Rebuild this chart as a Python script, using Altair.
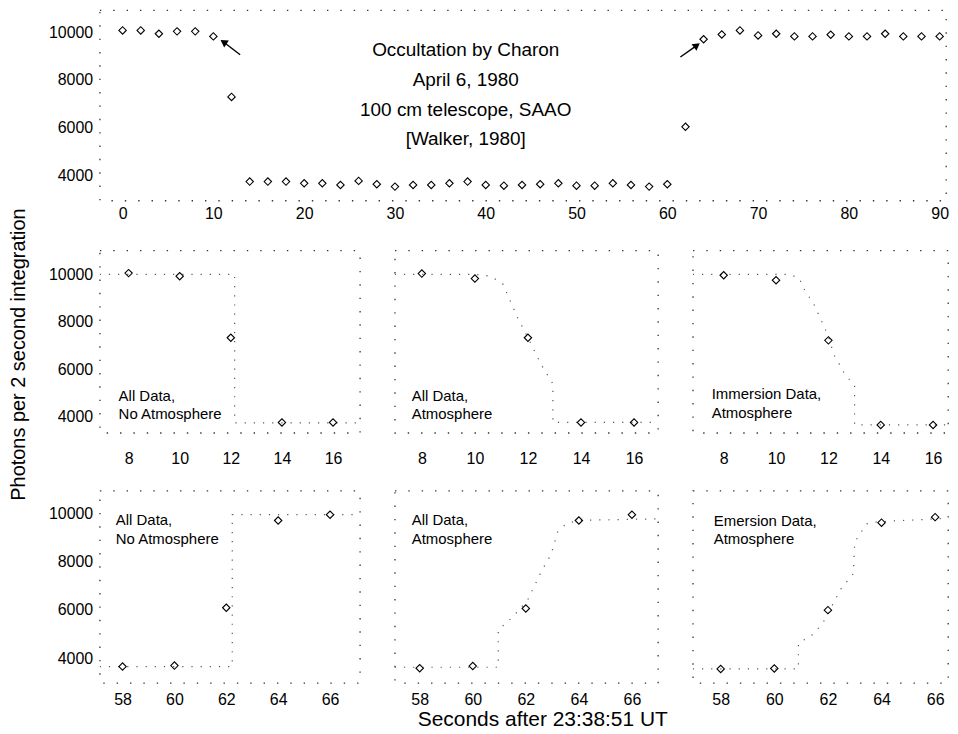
import altair as alt
import pandas as pd

FONT = "Liberation Sans"

# ---------------- data ----------------
# top panel: full light curve
top_sec = list(range(0, 92, 2))
top_photons = [10070, 10070, 9930, 10030, 10030, 9820, 7290,
               3750, 3750, 3750, 3680, 3680, 3610, 3780, 3640, 3540, 3610, 3610, 3680,
               3750, 3610, 3580, 3610, 3640, 3680, 3580, 3580, 3680, 3610, 3540, 3640,
               6040,
               9700, 9900, 10070, 9860, 9930, 9820, 9820, 9890, 9820, 9820, 9930, 9820, 9820, 9820]

arrow_x = [12.95, 61.44]
arrow_y = [9054, 8958]
arrow_x2 = [11.12, 63.26]
arrow_y2 = [9583, 9445]
arrow_angle = [304, 53]

info_lines = ["Occultation by Charon", "April 6, 1980", "100 cm telescope, SAAO", "[Walker, 1980]"]
info_x = [37.8, 37.8, 37.8, 37.8]
info_y = [9250, 8000, 6750, 5540]

# row 1: immersion
imm_sec = [8, 10, 12, 14, 16]
imm_p1 = [10050, 9920, 7330, 3765, 3765]
imm_p2 = [10030, 9820, 7330, 3765, 3765]
imm_p3 = [9960, 9750, 7220, 3660, 3660]

m11_x = [6.87, 12.15, 12.15, 17.05]
m11_y = [10000, 10000, 3750, 3750]
m12_x = [6.98, 10.0, 10.6, 11.06, 11.6, 12.0, 12.5, 12.94, 12.94, 16.9]
m12_y = [10000, 10000, 9920, 9580, 8200, 7330, 6200, 5390, 3765, 3765]
m13_x = [6.82, 10.5, 10.9, 11.0, 11.45, 12.0, 12.2, 12.48, 12.6, 13.0, 13.0, 16.57]
m13_y = [10000, 10000, 9830, 9500, 8730, 7400, 6640, 6100, 5850, 5300, 3660, 3660]

# row 2: emersion
emr_sec = [58, 60, 62, 64, 66]
emr_p1 = [3650, 3690, 6090, 9710, 9950]
emr_p2 = [3580, 3670, 6060, 9710, 9950]
emr_p3 = [3550, 3570, 5990, 9620, 9850]

m21_x = [57.12, 62.23, 62.23, 67.15]
m21_y = [3650, 3650, 9950, 9950]
m22_x = [57.06, 60.96, 60.96, 61.5, 62.06, 62.6, 62.95, 63.2, 63.45, 63.7, 64.2, 66.98]
m22_y = [3620, 3620, 5170, 5700, 6390, 7630, 8300, 9230, 9500, 9640, 9720, 9780]
m23_x = [56.96, 60.9, 60.9, 61.4, 61.8, 62.16, 62.5, 62.95, 63.0, 63.44, 63.7, 64.6, 66.48]
m23_y = [3550, 3550, 4620, 4950, 5430, 6190, 6900, 7500, 8815, 9570, 9640, 9700, 9800]

lab_all_noatm = ["All Data,", "No Atmosphere"]
lab_all_atm = ["All Data,", "Atmosphere"]
lab_imm = ["Immersion Data,", "Atmosphere"]
lab_emr = ["Emersion Data,", "Atmosphere"]

y_ticks = [4000, 6000, 8000, 10000]
top_xticks = list(range(0, 100, 10))
imm_xticks = [8, 10, 12, 14, 16]
emr_xticks = [58, 60, 62, 64, 66]

VIEW = alt.ViewBackground(stroke="#333", strokeDash=[1.4, 12], strokeWidth=1.3, fill="white")


def panel(sec, vals, mx, my, labels, lab_x, lab_y, xdom, ydom, xticks, w, h,
          xlabpad, show_y=False, ytitle=None, xtitle=None):
    pts = pd.DataFrame({"t": sec, "v": vals})
    mdl = pd.DataFrame({"t": mx, "v": my, "o": list(range(len(mx)))})
    lab = pd.DataFrame({"t": lab_x, "v": lab_y, "s": labels})
    xs = alt.Scale(domain=xdom, nice=False, zero=False)
    ys = alt.Scale(domain=ydom, nice=False, zero=False)
    xkw = dict(values=xticks, labelPadding=xlabpad, format="d")
    if xtitle is not None:
        xkw.update(title=xtitle["text"], titleX=xtitle["x"], titleY=xtitle["y"],
                   titleFontSize=xtitle["size"])
    else:
        xkw.update(title=None)
    xenc = alt.X("t:Q", scale=xs, axis=alt.Axis(**xkw))
    if show_y:
        ykw = dict(values=y_ticks, format="d", labelPadding=7)
        if ytitle is not None:
            ykw.update(title=ytitle["text"], titleX=ytitle["x"], titleY=ytitle["y"])
        else:
            ykw.update(title=None)
        yenc = alt.Y("v:Q", scale=ys, axis=alt.Axis(**ykw))
    else:
        yenc = alt.Y("v:Q", scale=ys, axis=None)
    line = alt.Chart(mdl).mark_line(strokeDash=[1.2, 8], color="#555",
                                    strokeWidth=1.2, clip=True).encode(
        x=xenc, y=yenc, order="o:Q")
    dots = alt.Chart(pts).mark_point(shape="diamond", filled=False, color="black",
                                     size=55, strokeWidth=1.1, opacity=1).encode(x=xenc, y=yenc)
    txt = alt.Chart(lab).mark_text(align="left", baseline="middle", font=FONT,
                                   fontSize=15, color="black").encode(x=xenc, y=yenc, text="s:N")
    return alt.layer(line, dots, txt).properties(width=w, height=h, view=VIEW)


# ---------------- top panel ----------------
tdf = pd.DataFrame({"t": top_sec, "v": top_photons})
adf = pd.DataFrame({"t": arrow_x, "v": arrow_y, "t2": arrow_x2, "v2": arrow_y2, "a": arrow_angle})
idf = pd.DataFrame({"t": info_x, "v": info_y, "s": info_lines})

txs = alt.Scale(domain=[-2.52, 90.7], nice=False, zero=False)
tys = alt.Scale(domain=[2958, 10917], nice=False, zero=False)
tx = alt.X("t:Q", scale=txs, axis=alt.Axis(values=top_xticks, labelPadding=5, title=None, format="d"))
ty = alt.Y("v:Q", scale=tys, axis=alt.Axis(values=y_ticks, labelPadding=7, title=None, format="d"))

top_pts = alt.Chart(tdf).mark_point(shape="diamond", filled=False, color="black",
                                    size=55, strokeWidth=1.1, opacity=1).encode(x=tx, y=ty)
top_arrow = alt.Chart(adf).mark_rule(color="black", strokeWidth=1.4).encode(
    x=tx, y=ty, x2="t2:Q", y2="v2:Q")
top_head = alt.Chart(adf).mark_point(shape="triangle-up", filled=True, color="black",
                                     size=70, opacity=1).encode(
    x=alt.X("t2:Q", scale=txs), y=alt.Y("v2:Q", scale=tys), angle=alt.Angle("a:Q", scale=None))
top_txt = alt.Chart(idf).mark_text(align="center", baseline="middle", font=FONT,
                                   fontSize=19, color="black").encode(x=tx, y=ty, text="s:N")
top = alt.layer(top_pts, top_arrow, top_head, top_txt).properties(width=849, height=191, view=VIEW)

# ---------------- rows ----------------
r1y = [3330, 11006]
r2y = [2967, 10950]

p11 = panel(imm_sec, imm_p1, m11_x, m11_y, lab_all_noatm, [7.61, 7.61], [4885, 4130],
            [6.87, 17.05], r1y, imm_xticks, 261, 183, 18, show_y=True,
            ytitle={"text": "Photons per 2 second integration", "x": -71, "y": 104})
p12 = panel(imm_sec, imm_p2, m12_x, m12_y, lab_all_atm, [7.62, 7.62], [4885, 4130],
            [6.98, 16.9], r1y, imm_xticks, 264, 183, 18)
p13 = panel(imm_sec, imm_p3, m13_x, m13_y, lab_imm, [7.54, 7.54], [4970, 4170],
            [6.82, 16.57], r1y, imm_xticks, 256, 183, 18)

p21 = panel(emr_sec, emr_p1, m21_x, m21_y, lab_all_noatm, [57.74, 57.74], [9710, 8925],
            [57.12, 67.15], r2y, emr_xticks, 261, 193, 9, show_y=True)
p22 = panel(emr_sec, emr_p2, m22_x, m22_y, lab_all_atm, [57.70, 57.70], [9710, 8925],
            [57.06, 66.98], r2y, emr_xticks, 264, 193, 9,
            xtitle={"text": "Seconds after 23:38:51 UT", "x": 148, "y": 26, "size": 21})
p23 = panel(emr_sec, emr_p3, m23_x, m23_y, lab_emr, [57.74, 57.74], [9670, 8925],
            [56.96, 66.48], r2y, emr_xticks, 256, 193, 9)

row1 = alt.hconcat(p11, p12, p13, spacing=35, bounds="flush")
row2 = alt.hconcat(p21, p22, p23, spacing=35, bounds="flush")
# nested concat groups count as zero-height under flush bounds, so the spacing
# here is the distance from the top of row 1 to the top of row 2
rows = alt.vconcat(row1, row2, spacing=241, bounds="flush")

chart = alt.vconcat(top, rows, spacing=50, bounds="flush").properties(
    padding={"left": 0, "top": 0, "right": 0, "bottom": 0},
    background="white",
).configure_axis(
    labelFont=FONT, labelFontSize=16, labelColor="black",
    titleFont=FONT, titleFontSize=20, titleColor="black", titleFontWeight="normal",
    grid=False, domain=False, ticks=False, tickSize=0,
).configure_view(stroke="#333")

chart.save("out.html", embed_options={"renderer": "svg", "actions": False})
